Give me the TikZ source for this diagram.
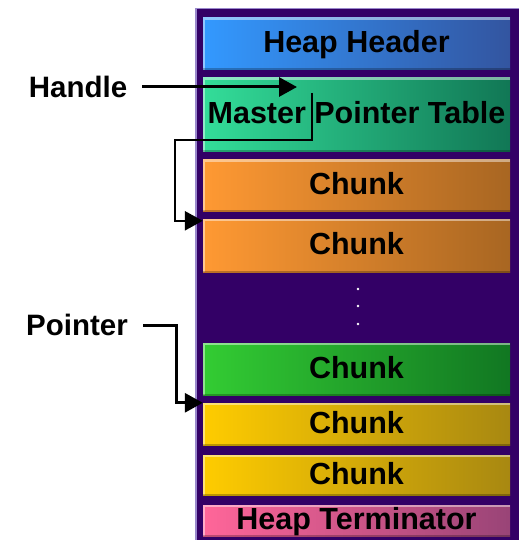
\documentclass[tikz,border=0pt]{standalone}
\usepackage{fontspec}
\setmainfont{Liberation Sans}
\usetikzlibrary{arrows.meta}
\definecolor{heapbg}{HTML}{330066}
\definecolor{heapedge}{HTML}{9988CC}
\definecolor{hdrl}{HTML}{3399FF}
\definecolor{hdrr}{HTML}{3355A0}
\definecolor{mptl}{HTML}{33DD99}
\definecolor{mptr}{HTML}{117755}
\definecolor{orgl}{HTML}{FF9933}
\definecolor{orgr}{HTML}{A86622}
\definecolor{grnl}{HTML}{33CC33}
\definecolor{grnr}{HTML}{117722}
\definecolor{ylwl}{HTML}{FFCC00}
\definecolor{ylwr}{HTML}{A88811}
\definecolor{pnkl}{HTML}{FF6699}
\definecolor{pnkr}{HTML}{994477}
\begin{document}
\begin{tikzpicture}[x=1pt,y=-1pt,
    block/.style={minimum width=307pt,inner sep=0pt,text height=22pt,text depth=4pt,
      font=\fontsize{30.5}{30.5}\selectfont\bfseries,
      path picture={\draw[white,opacity=0.45,line width=4pt]
        (path picture bounding box.south west) |- (path picture bounding box.north east);
        \draw[black,opacity=0.25,line width=3pt]
        (path picture bounding box.south west) -- (path picture bounding box.south east);}},
    lbl/.style={inner xsep=15pt,inner ysep=0pt,font=\fontsize{29.5}{29.5}\selectfont\bfseries},
    arr/.style={line width=3pt,-{Triangle[length=18pt,width=19pt]}}]
    \useasboundingbox (0,0) rectangle (522,540);
    \fill[heapbg] (195,8) rectangle (519,540);
    \draw[heapedge,line width=1.5pt] (195.75,540) -- (195.75,8.75) -- (519,8.75);
    \node[block,left color=hdrl,right color=hdrr,minimum height=52pt] (hdr) at (356.5,44) {Heap Header};
    \node[block,left color=mptl,right color=mptr,minimum height=74pt] (mpt) at (356.5,115) {Master Pointer Table};
    \node[block,left color=orgl,right color=orgr,minimum height=51pt] (chunka) at (356.5,185.5) {Chunk};
    \node[block,left color=orgl,right color=orgr,minimum height=53pt] (chunkb) at (356.5,245.5) {Chunk};
    \node[block,left color=grnl,right color=grnr,minimum height=52pt] (chunkc) at (356.5,369) {Chunk};
    \node[block,left color=ylwl,right color=ylwr,minimum height=42pt] (chunkd) at (356.5,424) {Chunk};
    \node[block,left color=ylwl,right color=ylwr,minimum height=40pt] (chunke) at (356.5,475) {Chunk};
    \node[block,left color=pnkl,right color=pnkr,minimum height=31pt] (term) at (356.5,520.5) {Heap Terminator};
    \foreach \y in {289,306,324}
        \fill[white] (358,\y) circle (1.4pt);
    \node[lbl] (handle) at (78,87) {Handle};
    \node[lbl] (pointer) at (77,325) {Pointer};
    \coordinate (hdlend) at (297,87);
    \coordinate (mptout) at (312,93);
    \draw[arr] (handle.east) -- (hdlend);
    \draw[arr,line width=2.5pt] (mptout) |- (175,140) |- ([yshift=-2pt]chunkb.north west);
    \draw[arr] (pointer.east) -- ++(33,0) |- (chunkd.north west);
\end{tikzpicture}
\end{document}
